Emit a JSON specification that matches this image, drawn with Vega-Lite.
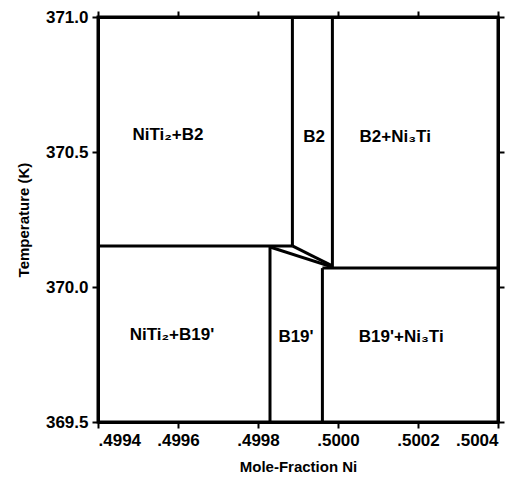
{
  "$schema": "https://vega.github.io/schema/vega-lite/v6.json",
  "autosize": "none",
  "width": 400,
  "height": 405,
  "padding": {"left": 98, "top": 17, "right": 25, "bottom": 56},
  "background": "white",
  "datasets": {
    "segments": [
      {"x": 0.4994, "y": 370.152, "x2": 0.499886, "y2": 370.152},
      {"x": 0.499886, "y": 370.152, "x2": 0.499886, "y2": 371.0},
      {"x": 0.499986, "y": 370.07, "x2": 0.499986, "y2": 371.0},
      {"x": 0.499961, "y": 370.07, "x2": 0.5004, "y2": 370.07},
      {"x": 0.49983, "y": 369.5, "x2": 0.49983, "y2": 370.148},
      {"x": 0.499961, "y": 369.5, "x2": 0.499961, "y2": 370.07},
      {"x": 0.499886, "y": 370.152, "x2": 0.499986, "y2": 370.078},
      {"x": 0.49983, "y": 370.148, "x2": 0.499986, "y2": 370.074}
    ],
    "labels": [
      {"x": 0.499575, "y": 370.563, "label": "NiTi₂+B2"},
      {"x": 0.49994, "y": 370.556, "label": "B2"},
      {"x": 0.500143, "y": 370.556, "label": "B2+Ni₃Ti"},
      {"x": 0.499585, "y": 369.822, "label": "NiTi₂+B19'"},
      {"x": 0.499895, "y": 369.815, "label": "B19'"},
      {"x": 0.500158, "y": 369.815, "label": "B19'+Ni₃Ti"}
    ]
  },
  "layer": [
    {
      "data": {"name": "segments"},
      "mark": {"type": "rule", "color": "black", "strokeWidth": 3},
      "encoding": {
        "x": {
          "field": "x", "type": "quantitative",
          "scale": {"domain": [0.4994, 0.5004], "nice": false, "zero": false},
          "axis": {
            "orient": "bottom",
            "values": [0.4994, 0.4996, 0.4998, 0.5, 0.5002, 0.5004],
            "labelExpr": "replace(format(datum.value, '.4f'), '0.', '.')",
            "title": "Mole-Fraction Ni",
            "titleBaseline": "middle",
            "titleY": 44
          }
        },
        "y": {
          "field": "y", "type": "quantitative",
          "scale": {"domain": [369.5, 371.0], "nice": false, "zero": false},
          "axis": {
            "orient": "left",
            "values": [369.5, 370.0, 370.5, 371.0],
            "format": ".1f",
            "title": "Temperature (K)",
            "titleBaseline": "middle",
            "titleX": -75
          }
        },
        "x2": {"field": "x2"},
        "y2": {"field": "y2"}
      }
    },
    {
      "data": {"name": "labels"},
      "mark": {"type": "text", "font": "Liberation Sans", "fontWeight": "bold", "fontSize": 17, "color": "black", "baseline": "middle", "align": "center"},
      "encoding": {
        "x": {
          "field": "x", "type": "quantitative",
          "axis": {"orient": "top", "values": [0.4994, 0.4996, 0.4998, 0.5, 0.5002, 0.5004], "labels": false, "title": null}
        },
        "y": {
          "field": "y", "type": "quantitative",
          "axis": {"orient": "right", "values": [369.5, 370.0, 370.5, 371.0], "labels": false, "title": null}
        },
        "text": {"field": "label"}
      }
    }
  ],
  "resolve": {"axis": {"x": "independent", "y": "independent"}},
  "config": {
    "view": {"stroke": "black", "strokeWidth": 3},
    "axis": {
      "grid": false,
      "domainColor": "black",
      "domainWidth": 3,
      "tickColor": "black",
      "tickWidth": 2,
      "tickSize": 6,
      "labelFont": "Liberation Sans",
      "labelFontWeight": "bold",
      "labelFontSize": 17,
      "labelColor": "black",
      "labelPadding": 4,
      "titleFont": "Liberation Sans",
      "titleFontWeight": "bold",
      "titleFontSize": 15,
      "titleColor": "black"
    }
  }
}
